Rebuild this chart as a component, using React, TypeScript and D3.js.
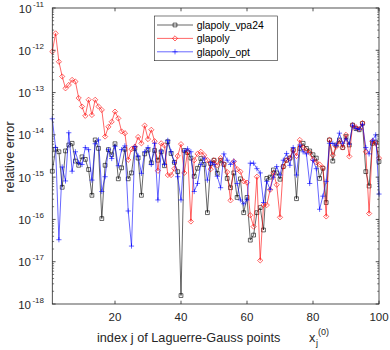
import React from "react";
import * as d3 from "d3";

// log10 of the relative error, for index j = 1..100
const vpa24Exp = [
  -14.86, -14.34, -14.4, -15.24, -14.38, -14.24, -14.2, -14.62, -14.72, -14.52,
  -14.58, -14.82, -15.43, -14.12, -14.32, -15.98, -14.72, -14.35, -14.47, -14.21,
  -15.04, -14.78, -14.34, -15.04, -14.9, -14.32, -14.55, -15.43, -14.45, -14.36,
  -14.66, -14.37, -14.6, -14.4, -14.73, -14.16, -14.44, -14.65, -14.87, -17.8,
  -14.37, -14.42, -14.55, -14.98, -14.79, -14.56, -14.7, -15.84, -14.68, -14.6,
  -14.91, -14.6, -14.7, -15.03, -15.25, -14.9, -15.48, -15.04, -15.84, -15.48,
  -16.49, -16.37, -15.84, -15.72, -16.25, -15.03, -15.0, -14.83, -14.9, -15.05,
  -14.75, -14.6, -14.55, -14.36, -15.51, -14.32, -14.2, -14.32, -14.38, -14.47,
  -14.55, -15.03, -14.79, -15.6, -14.12, -14.62, -14.24, -14.12, -14.3, -14.04,
  -14.24, -13.77, -13.85, -13.88, -13.73, -14.87, -15.21, -14.2, -14.17, -14.63,
];

const glapolyExp = [
  -12.03, -11.6, -12.27, -12.62, -12.9, -12.82, -12.7, -12.74, -13.13, -13.33,
  -13.55, -13.17, -13.53, -13.17, -13.33, -13.41, -14.04, -13.81, -13.69, -13.45,
  -13.61, -13.92, -13.96, -14.59, -14.34, -14.28, -14.05, -14.2, -13.78, -14.1,
  -13.88, -14.15, -14.85, -14.2, -14.25, -14.95, -14.95, -14.8, -14.5, -14.22,
  -14.9, -14.4, -16.05, -14.6, -14.45, -14.4, -14.48, -14.6, -14.81, -14.6,
  -14.72, -14.55, -14.69, -14.88, -15.55, -14.63, -14.81, -14.87, -15.1, -15.13,
  -15.9, -16.17, -14.99, -16.97, -15.66, -15.66, -15.3, -14.9, -15.18, -15.95,
  -14.75, -14.6, -14.55, -14.36, -14.5, -14.12, -14.3, -14.38, -14.42, -14.58,
  -14.65, -14.7, -14.78, -15.93, -14.12, -14.48, -14.28, -14.15, -14.3, -14.0,
  -14.51, -13.77, -13.82, -13.86, -13.72, -14.4, -15.86, -14.15, -14.2, -14.55,
];

const optExp = [
  -13.62, -14.3, -16.48, -14.76, -15.09, -13.95, -14.86, -14.4, -14.66, -14.7,
  -14.3, -14.35, -15.07, -14.21, -14.12, -15.34, -14.99, -14.35, -14.56, -14.27,
  -14.73, -14.35, -14.26, -15.8, -16.63, -14.28, -14.5, -14.91, -14.4, -14.3,
  -14.7, -14.2, -15.54, -14.38, -14.7, -14.13, -14.4, -14.65, -14.99, -15.54,
  -14.38, -14.33, -14.4, -15.34, -15.15, -14.7, -14.55, -15.07, -14.65, -14.7,
  -14.98, -15.25, -14.45, -14.6, -14.7, -14.62, -15.15, -15.54, -15.63, -15.54,
  -14.67, -14.67, -14.8, -14.9, -15.6, -15.1, -15.29, -15.0, -14.75, -14.95,
  -14.6, -14.44, -14.72, -14.3, -14.95, -14.24, -14.4, -14.45, -15.15, -14.6,
  -14.8, -15.76, -15.45, -15.1, -14.2, -14.2, -14.25, -13.96, -14.2, -14.1,
  -14.22, -13.77, -13.85, -13.87, -13.75, -14.3, -14.45, -14.13, -14.0, -15.4,
];

const seriesNames = ["glapoly_vpa24", "glapoly", "glapoly_opt"];
const xTicks = [20, 40, 60, 80, 100];
const yTickExps = [-18, -17, -16, -15, -14, -13, -12, -11];

const FONT = "'Liberation Sans', Arial, Helvetica, sans-serif";
const left = 52.3, right = 379, top = 8, bottom = 304;

const x = d3.scaleLinear().domain([1, 100]).range([left, right]);
const y = d3.scaleLog().domain([1e-18, 1e-11]).range([bottom, top]);

const styles = [
  { color: "#000000", marker: "square" },
  { color: "#ff0000", marker: "diamond" },
  { color: "#0000ff", marker: "plus" },
];

function markerPath(kind: string, cx: number, cy: number) {
  if (kind === "square") {
    const s = 1.9;
    return `M${cx - s},${cy - s}h${2 * s}v${2 * s}h${-2 * s}Z`;
  }
  if (kind === "diamond") {
    const s = 2.6;
    return `M${cx},${cy - s}L${cx + s},${cy}L${cx},${cy + s}L${cx - s},${cy}Z`;
  }
  const s = 2.6;
  return `M${cx - s},${cy}H${cx + s}M${cx},${cy - s}V${cy + s}`;
}

const Series = ({ data, color, marker }: { data: number[]; color: string; marker: string }) => {
  const line = d3
    .line<number>()
    .x((_, i) => x(i + 1))
    .y((d) => y(Math.pow(10, d)));
  const marks = data.map((d, i) => markerPath(marker, x(i + 1), y(Math.pow(10, d)))).join("");
  return (
    <g>
      <path d={line(data) || ""} fill="none" stroke={color} strokeWidth={0.6} />
      <path d={marks} fill="none" stroke={color} strokeWidth={0.6} />
    </g>
  );
};

export default function App() {
  const allData = [vpa24Exp, glapolyExp, optExp];

  // minor ticks on the log axis
  const minor: number[] = [];
  for (let e = -18; e < -11; e++) {
    for (let k = 2; k <= 9; k++) minor.push(k * Math.pow(10, e));
  }

  return (
    <svg
      width={390}
      height={350}
      style={{ position: "absolute", left: 0, top: 0, background: "#fff" }}
      fontFamily={FONT}
    >
      <rect x={0} y={0} width={390} height={350} fill="#fff" />

      {/* series */}
      {allData.map((d, i) => (
        <Series key={i} data={d} color={styles[i].color} marker={styles[i].marker} />
      ))}

      {/* axes box */}
      <rect x={left} y={top} width={right - left} height={bottom - top} fill="none" stroke="#262626" strokeWidth={0.8} />

      {/* x ticks */}
      {xTicks.map((t) => (
        <g key={t}>
          <line x1={x(t)} x2={x(t)} y1={bottom} y2={bottom - 3.3} stroke="#262626" strokeWidth={0.8} />
          <line x1={x(t)} x2={x(t)} y1={top} y2={top + 3.3} stroke="#262626" strokeWidth={0.8} />
          <text x={x(t)} y={321} textAnchor="middle" fontSize={11.5} fill="#262626">
            {t}
          </text>
        </g>
      ))}

      {/* y ticks */}
      {yTickExps.map((e) => {
        const yy = y(Math.pow(10, e));
        return (
          <g key={e}>
            <line x1={left} x2={left + 3.3} y1={yy} y2={yy} stroke="#262626" strokeWidth={0.8} />
            <line x1={right} x2={right - 3.3} y1={yy} y2={yy} stroke="#262626" strokeWidth={0.8} />
            <text x={44} y={yy + 4.5} textAnchor="end" fontSize={11.5} fill="#262626">
              10
              <tspan dx={1.5} dy={-6} fontSize={8}>
                {e}
              </tspan>
            </text>
          </g>
        );
      })}
      {minor.map((v, i) => (
        <g key={i}>
          <line x1={left} x2={left + 1.8} y1={y(v)} y2={y(v)} stroke="#262626" strokeWidth={0.6} />
          <line x1={right} x2={right - 1.8} y1={y(v)} y2={y(v)} stroke="#262626" strokeWidth={0.6} />
        </g>
      ))}

      {/* axis labels */}
      <text x={97} y={341.5} fontSize={12.7} fill="#262626">
        index j of Laguerre-Gauss points
      </text>
      <text x={309} y={341.5} fontSize={12.7} fill="#262626">
        x
      </text>
      <text x={316} y={346} fontSize={9} fill="#262626">
        j
      </text>
      <text x={318} y={335} fontSize={9} fill="#262626">
        (0)
      </text>
      <text
        transform={`translate(14,157) rotate(-90)`}
        textAnchor="middle"
        fontSize={12.7}
        fill="#262626"
      >
        relative error
      </text>

      {/* legend */}
      <rect x={154.3} y={16} width={123} height={44.7} fill="#fff" stroke="#262626" strokeWidth={0.6} />
      {seriesNames.map((name, i) => {
        const yy = 25 + i * 13.4;
        return (
          <g key={name}>
            <line x1={157} x2={193} y1={yy} y2={yy} stroke={styles[i].color} strokeWidth={0.6} />
            <path d={markerPath(styles[i].marker, 175, yy)} fill="none" stroke={styles[i].color} strokeWidth={0.6} />
            <text x={196.7} y={yy + 3.7} fontSize={10.4} fill="#000">
              {name}
            </text>
          </g>
        );
      })}
    </svg>
  );
}
